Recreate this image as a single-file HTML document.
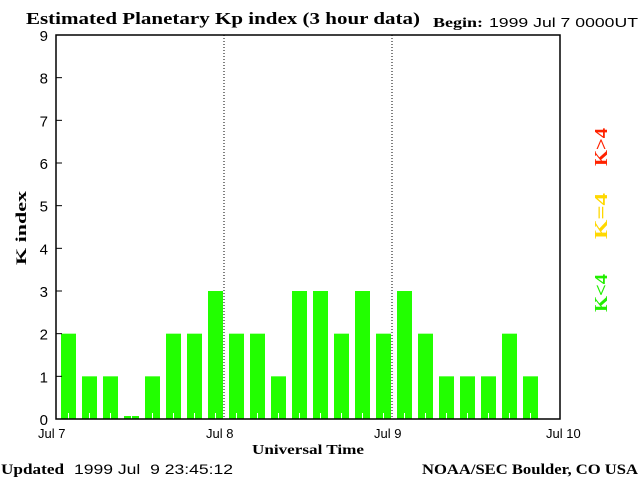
<!DOCTYPE html>
<html><head><meta charset="utf-8"><style>
body{margin:0;width:640px;height:480px;background:#fff;overflow:hidden}
svg text{font-family:"Liberation Sans",sans-serif}
.serif{font-family:"Liberation Serif",serif!important;font-weight:bold}
</style></head><body>
<svg id="c" width="640" height="480">
<text class="serif" x="26" y="24" font-size="17" textLength="394" lengthAdjust="spacingAndGlyphs">Estimated Planetary Kp index (3 hour data)</text>
<text class="serif" x="433" y="27" font-size="14" textLength="50" lengthAdjust="spacingAndGlyphs">Begin:</text>
<text x="489" y="27" font-size="13" textLength="149" lengthAdjust="spacingAndGlyphs">1999 Jul 7 0000UT</text>
<text class="serif" x="1" y="474" font-size="15" textLength="63" lengthAdjust="spacingAndGlyphs">Updated</text>
<text x="74" y="474" font-size="14" textLength="159" lengthAdjust="spacingAndGlyphs" xml:space="preserve">1999 Jul  9 23:45:12</text>
<text class="serif" x="422" y="474" font-size="15" textLength="216" lengthAdjust="spacingAndGlyphs">NOAA/SEC Boulder, CO USA</text>
<text class="serif" x="252" y="454" font-size="14" textLength="112" lengthAdjust="spacingAndGlyphs">Universal Time</text>
<text class="serif" transform="translate(26,228) rotate(-90)" text-anchor="middle" font-size="15" textLength="74" lengthAdjust="spacingAndGlyphs">K index</text>
<text class="serif" transform="translate(607,312) rotate(-90)" font-size="18" textLength="38" lengthAdjust="spacingAndGlyphs" fill="#22ee00">K&lt;4</text>
<text class="serif" transform="translate(607,239) rotate(-90)" font-size="18" textLength="46" lengthAdjust="spacingAndGlyphs" fill="#ffd800">K=4</text>
<text class="serif" transform="translate(607,166) rotate(-90)" font-size="18" textLength="38" lengthAdjust="spacingAndGlyphs" fill="#ff2200">K&gt;4</text>
<g id="plot"></g>
</svg>
<script>
const kValues=[2,1,1,0,1,2,2,3, 2,2,1,3,3,2,3,2, 3,2,1,1,1,2,1];
const yTicks=[0,1,2,3,4,5,6,7,8,9];
const dayLabels=["Jul 7","Jul 8","Jul 9","Jul 10"];
const NS="http://www.w3.org/2000/svg";
const L=56,R=560,T=35,B=419,yMax=9;
const y=v=>B-v*(B-T)/yMax;
const xDay=d=>L+d*(R-L)/3;
const xSlot=i=>L+2+(i+0.5)*(R-L)/24;
const g=document.getElementById('plot');
function mk(t,a){const e=document.createElementNS(NS,t);for(const k in a)e.setAttribute(k,a[k]);g.appendChild(e);return e;}
kValues.forEach((v,i)=>{
 const col=v<4?'#22ff00':(v==4?'#ffd800':'#ff2200');
 const top=v===0?B-3:y(v);
 const b=mk('rect',{x:xSlot(i)-7.5,y:top,width:15,height:B-top,fill:col});
 
 
 const t=mk('line',{x1:xSlot(i),x2:xSlot(i),y1:B-6,y2:B,stroke:'#fff'});
 
 
});
[1,2].forEach(d=>{
 const l=mk('line',{x1:xDay(d),x2:xDay(d),y1:T,y2:B,stroke:'#000','stroke-dasharray':'1,2'});
 
 
});
const f=mk('rect',{x:L,y:T,width:R-L,height:B-T,fill:'none',stroke:'#000','stroke-width':1.5});


yTicks.forEach(v=>{
 const t=mk('line',{x1:L,x2:L+6,y1:y(v),y2:y(v),stroke:'#000'});
 
 
 const tx=mk('text',{x:L-8,y:y(v)+6,'text-anchor':'end','font-size':15});
 tx.textContent=v;
 
 
});
dayLabels.forEach((s,d)=>{
 const tx=mk('text',{x:xDay(d)-(d==0?18:d==3?14:18),y:B+19,'font-size':13});
 tx.textContent=s;
 
 
});
</script>
</body></html>
